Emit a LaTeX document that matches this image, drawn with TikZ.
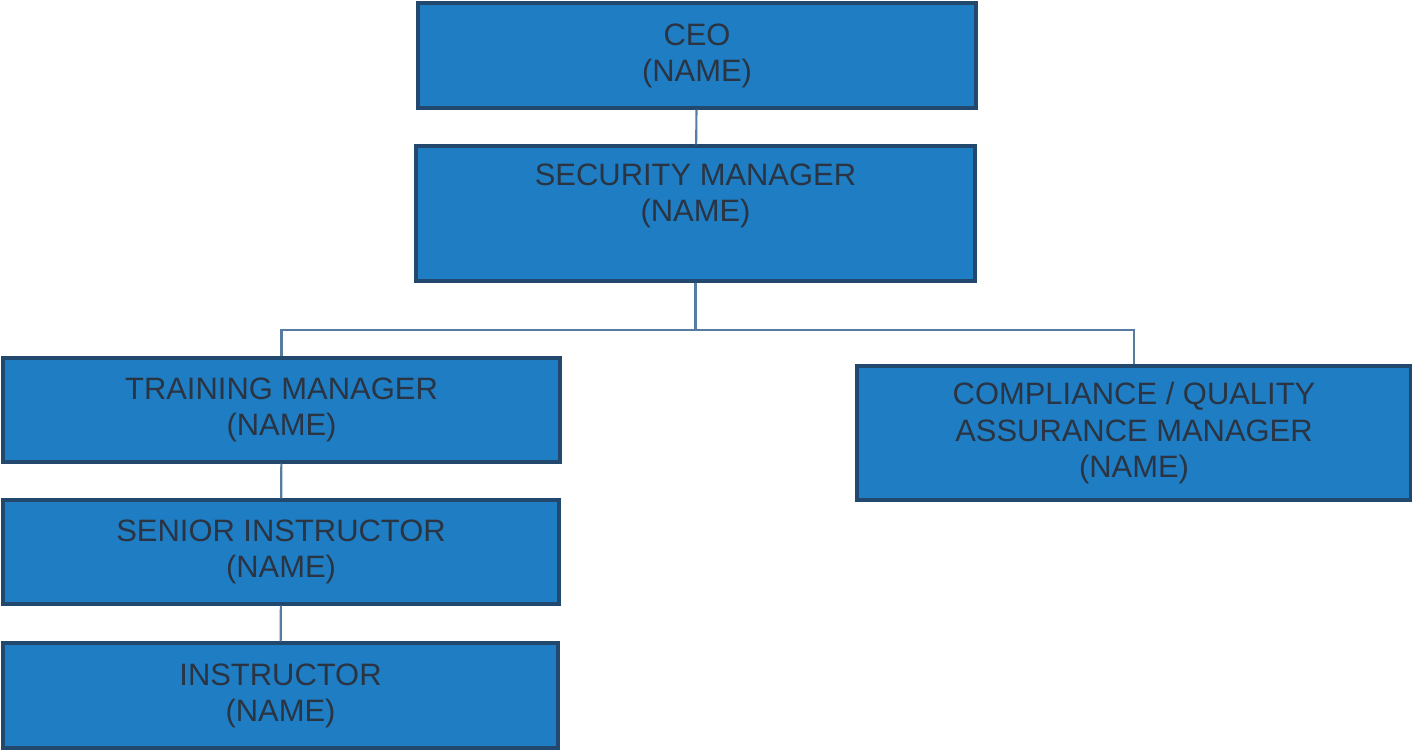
\documentclass[tikz,border=0pt]{standalone}
\usepackage{fontspec}
\setmainfont{Liberation Sans}
\definecolor{boxblue}{RGB}{30,125,195}
\definecolor{boxedge}{RGB}{35,72,110}
\definecolor{boxtext}{RGB}{42,52,66}
\definecolor{linkline}{RGB}{88,124,160}
\begin{document}
\begin{tikzpicture}[
	post/.style={draw=boxedge,line width=0.9pt,fill=boxblue,text=boxtext,
		align=center,inner sep=0pt,font=\fontsize{8.8}{10.3}\selectfont},
	link/.style={draw=linkline,line width=0.6pt}]
			\useasboundingbox (0,0) rectangle (14.12,-7.5);
			% top of the chart
			\node[post,minimum width=5.58cm,minimum height=1.05cm] (ceo) at (6.97,-0.555) {CEO\\(NAME)};
			\node[post,minimum width=5.59cm,minimum height=1.35cm,text depth=0.42cm] (secmgr) at (6.955,-2.135) {SECURITY MANAGER\\(NAME)};
			% second row
			\node[post,minimum width=5.57cm,minimum height=1.04cm] (trainmgr) at (2.815,-4.10) {TRAINING MANAGER\\(NAME)};
			\node[post,minimum width=5.54cm,minimum height=1.34cm] (qamgr) at (11.34,-4.33) {COMPLIANCE / QUALITY\\ASSURANCE MANAGER\\(NAME)};
			% training branch
			\node[post,minimum width=5.56cm,minimum height=1.04cm] (seninstr) at (2.81,-5.52) {SENIOR INSTRUCTOR\\(NAME)};
			\node[post,minimum width=5.55cm,minimum height=1.05cm] (instr) at (2.805,-6.955) {INSTRUCTOR\\(NAME)};
			% connectors
			\draw[link] (ceo) -- (secmgr);
			\draw[link] (secmgr.south) -- ++(0,-0.47) coordinate (bus);
			\draw[link] (bus) -| (trainmgr.north);
			\draw[link] (bus) -| (qamgr.north);
			\draw[link] (trainmgr) -- (seninstr);
			\draw[link] (seninstr) -- (instr);
			\end{tikzpicture}
\end{document}
